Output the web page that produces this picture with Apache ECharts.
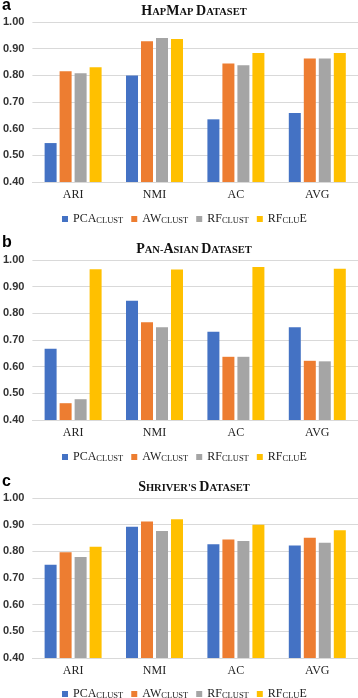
<!DOCTYPE html>
<html>
<head>
<meta charset="utf-8">
<script src="https://cdn.jsdelivr.net/npm/echarts@6/dist/echarts.min.js"></script>
<style>
  html, body { margin: 0; padding: 0; background: #fff; }
  #chart { width: 358px; height: 698px; }
</style>
</head>
<body>
<div id="chart"></div>
<script>
const categories = ["ARI", "NMI", "AC", "AVG"];
const seriesNames = ["PCAclust", "AWclust", "RFclust", "RFcluE"];
const yTicks = [0.4, 1.0, 0.1]; // min, max, interval

// a: HapMap
const hapmapPCA = [0.546, 0.799, 0.635, 0.659];
const hapmapAW = [0.815, 0.928, 0.844, 0.863];
const hapmapRF = [0.808, 0.940, 0.838, 0.863];
const hapmapRFE = [0.830, 0.936, 0.884, 0.884];

// b: Pan-Asian
const panAsianPCA = [0.667, 0.847, 0.731, 0.748];
const panAsianAW = [0.463, 0.767, 0.637, 0.622];
const panAsianRF = [0.478, 0.748, 0.637, 0.620];
const panAsianRFE = [0.965, 0.964, 0.974, 0.967];

// c: Shriver
const shriverPCA = [0.750, 0.892, 0.827, 0.822];
const shriverAW = [0.797, 0.912, 0.844, 0.851];
const shriverRF = [0.779, 0.876, 0.839, 0.832];
const shriverRFE = [0.817, 0.920, 0.900, 0.879];

const panels = [
  { letter: "a", title: "HapMap Dataset", data: [hapmapPCA, hapmapAW, hapmapRF, hapmapRFE] },
  { letter: "b", title: "Pan-Asian Dataset", data: [panAsianPCA, panAsianAW, panAsianRF, panAsianRFE] },
  { letter: "c", title: "Shriver's Dataset", data: [shriverPCA, shriverAW, shriverRF, shriverRFE] },
];

const colors = ["#4472C4", "#ED7D31", "#A5A5A5", "#FFC000"];
const serif = "'Liberation Serif', 'DejaVu Serif', serif";

// fake small caps: capitals big, lowercase as smaller capitals
function smallCaps(str) {
  let out = "", run = "", cur = null;
  for (const ch of str) {
    const big = ch !== ch.toLowerCase();
    const kind = big ? "b" : "s";
    if (kind !== cur && run) { out += "{" + cur + "|" + run + "}"; run = ""; }
    cur = kind;
    run += big ? ch : ch.toUpperCase();
  }
  if (run) out += "{" + cur + "|" + run + "}";
  return out;
}

const gridTops = [22, 260, 498];
const titleTops = [4, 242, 480];
const letterTops = [-2, 235, 474];
const legendTops = [213, 451, 688];

const option = {
  animation: false,
  color: colors,
  title: [],
  legend: [],
  grid: [],
  xAxis: [],
  yAxis: [],
  series: [],
};

panels.forEach((p, i) => {
  option.title.push({
    text: p.letter, left: 2, top: letterTops[i], padding: 0,
    textStyle: { fontFamily: "'Liberation Sans', Arial, sans-serif", fontWeight: "bold", fontSize: 16, color: "#000" },
  });
  option.title.push({
    text: smallCaps(p.title), left: 194, textAlign: "center", top: titleTops[i], padding: 0,
    textStyle: {
      rich: {
        b: { fontFamily: serif, fontSize: 14, color: "#111", fontWeight: "bold", verticalAlign: "bottom" },
        s: { fontFamily: serif, fontSize: 10.5, color: "#111", fontWeight: "bold", verticalAlign: "bottom" },
      },
    },
  });
  option.legend.push({
    data: seriesNames, left: 62, top: legendTops[i], icon: "rect",
    itemWidth: 6, itemHeight: 6, itemGap: 8, padding: 0,
    formatter: (name) => smallCaps(name),
    textStyle: {
      rich: {
        b: { fontFamily: serif, fontSize: 12, color: "#222", verticalAlign: "bottom" },
        s: { fontFamily: serif, fontSize: 8.5, color: "#222", verticalAlign: "bottom" },
      },
    },
  });
  option.grid.push({ left: 30, right: 0, top: gridTops[i], height: 160 });
  option.xAxis.push({
    type: "category", gridIndex: i, data: categories,
    axisLine: { lineStyle: { color: "#d9d9d9" } },
    axisTick: { show: false },
    axisLabel: { fontFamily: serif, fontSize: 12, color: "#222", margin: 7 },
  });
  option.yAxis.push({
    type: "value", gridIndex: i, min: yTicks[0], max: yTicks[1], interval: yTicks[2],
    axisLine: { show: false }, axisTick: { show: false },
    splitLine: { lineStyle: { color: "#d9d9d9" } },
    axisLabel: {
      fontFamily: "'Liberation Sans', Arial, sans-serif", fontSize: 11, fontWeight: "bold",
      color: "#333", margin: 8, formatter: (v) => v.toFixed(2),
    },
  });
  p.data.forEach((vals, k) => {
    option.series.push({
      name: seriesNames[k], type: "bar", xAxisIndex: i, yAxisIndex: i,
      data: vals, barWidth: 12, barGap: "25%",
      itemStyle: { color: colors[k] },
    });
  });
});

const chart = echarts.init(document.getElementById("chart"));
chart.setOption(option);
</script>
</body>
</html>
